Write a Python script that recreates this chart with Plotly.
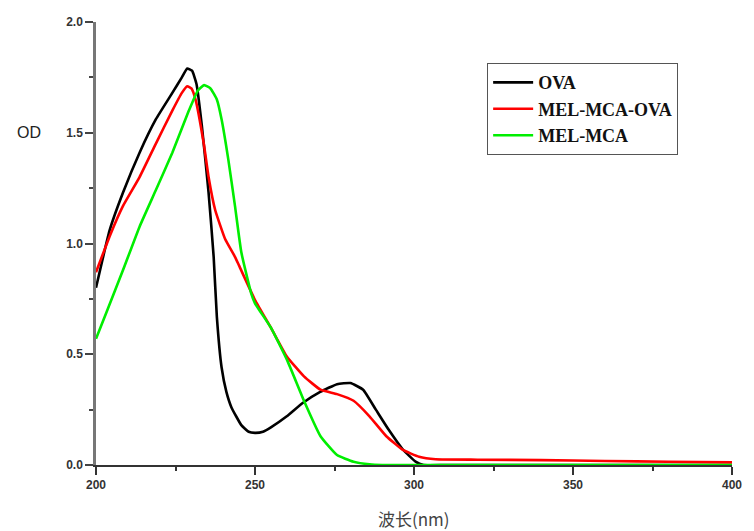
import plotly.graph_objects as go

# Wavelength (nm) / OD readings for each sample
ova_nm = [200, 204.3, 208.5, 213.7, 218.8, 224, 227, 228.7, 230.2, 231.6, 233.3, 235.4, 237,
          238, 239.5, 241, 242.6, 245.7, 248, 250, 252.5, 255, 260, 265, 270.5, 275.8, 280,
          284, 288, 292, 296.5, 300.5, 303, 310, 350, 400]
ova_od = [0.80, 1.06, 1.23, 1.41, 1.56, 1.68, 1.75, 1.79, 1.78, 1.72, 1.53, 1.23, 0.94,
          0.67, 0.44, 0.33, 0.26, 0.18, 0.15, 0.145, 0.15, 0.17, 0.22, 0.28, 0.33, 0.365, 0.37,
          0.34, 0.25, 0.16, 0.07, 0.015, 0.0, 0.0, 0.0, 0.0]

mix_nm = [200, 204.5, 208.5, 213.7, 218.8, 224, 227, 228.7, 230, 231.3, 233.9, 235.4,
          237.5, 240.6, 243.7, 245, 250, 255, 260, 265.4, 270.6, 275.8, 281, 286, 291.3,
          296.5, 301.6, 306.8, 320, 340, 360, 380, 400]
mix_od = [0.87, 1.04, 1.17, 1.30, 1.45, 1.60, 1.68, 1.71, 1.70, 1.65, 1.45, 1.30,
          1.15, 1.02, 0.94, 0.90, 0.745, 0.62, 0.49, 0.40, 0.34, 0.32, 0.29, 0.22, 0.13,
          0.068, 0.037, 0.026, 0.024, 0.022, 0.018, 0.015, 0.012]

mca_nm = [200, 203.3, 208.5, 213.7, 218.8, 224, 229.2, 232, 234, 236, 238, 239.5,
          241.6, 243.7, 245.7, 248.8, 250, 255, 260.2, 265.4, 270.6, 275.8, 281, 286, 290, 400]
mca_od = [0.57, 0.69, 0.88, 1.076, 1.24, 1.41, 1.60, 1.69, 1.715, 1.70, 1.65, 1.56,
          1.38, 1.17, 0.96, 0.775, 0.73, 0.62, 0.47, 0.29, 0.13, 0.045, 0.015, 0.003, 0.0, 0.0]

series = [
    ("OVA", ova_nm, ova_od, "#000000"),
    ("MEL-MCA-OVA", mix_nm, mix_od, "#ff0000"),
    ("MEL-MCA", mca_nm, mca_od, "#00ee00"),
]

x_ticks = [200, 250, 300, 350, 400]
y_ticks = [0.0, 0.5, 1.0, 1.5, 2.0]

fig = go.Figure()
for name, xs, ys, color in series:
    fig.add_trace(go.Scatter(
        x=xs, y=ys, name=name, mode="lines",
        line=dict(color=color, width=2.6, shape="spline", smoothing=0.4),
    ))

tick_font = dict(family="Liberation Sans, Arial", size=12, color="#333333", weight="bold")

fig.update_layout(
    width=754, height=531,
    margin=dict(l=96, r=14, t=22, b=66),
    paper_bgcolor="white", plot_bgcolor="white",
    showlegend=True,
    legend=dict(
        x=0.615, y=0.907, xanchor="left", yanchor="top",
        bgcolor="white", bordercolor="#555555", borderwidth=1,
        font=dict(family="Liberation Serif, Times New Roman", size=18, color="#111111",
                  weight="bold"),
        itemwidth=40,
    ),
    xaxis=dict(
        range=[200, 400], tickvals=x_ticks, ticktext=[str(v) for v in x_ticks],
        showgrid=False, zeroline=False, showline=True, linecolor="#333333", linewidth=2,
        ticks="outside", ticklen=8, tickwidth=1.5, tickcolor="#333333", tickfont=tick_font,
        minor=dict(ticks="outside", ticklen=4, tickwidth=1.5, tickcolor="#333333",
                   tick0=200, dtick=25, showgrid=False),
    ),
    yaxis=dict(
        range=[0, 2.0], tickvals=y_ticks, ticktext=[f"{v:.1f}" for v in y_ticks],
        showgrid=False, zeroline=False, showline=True, linecolor="#777777", linewidth=2.5,
        ticks="outside", ticklen=8, tickwidth=1.5, tickcolor="#444444", tickfont=tick_font,
        minor=dict(ticks="outside", ticklen=4, tickwidth=1.5, tickcolor="#444444",
                   tick0=0, dtick=0.25, showgrid=False),
    ),
    annotations=[
        dict(text="OD", xref="paper", yref="paper", x=-0.105, y=0.75,
             xanchor="center", yanchor="middle", showarrow=False,
             font=dict(family="Liberation Sans, Arial", size=16, color="#222222")),
        dict(text="波长(nm)", xref="paper", yref="paper", x=0.5, y=-0.12,
             xanchor="center", yanchor="middle", showarrow=False,
             font=dict(family="Noto Sans CJK SC, Liberation Sans", size=17, color="#444444")),
    ],
)

fig.write_html("out.html")
